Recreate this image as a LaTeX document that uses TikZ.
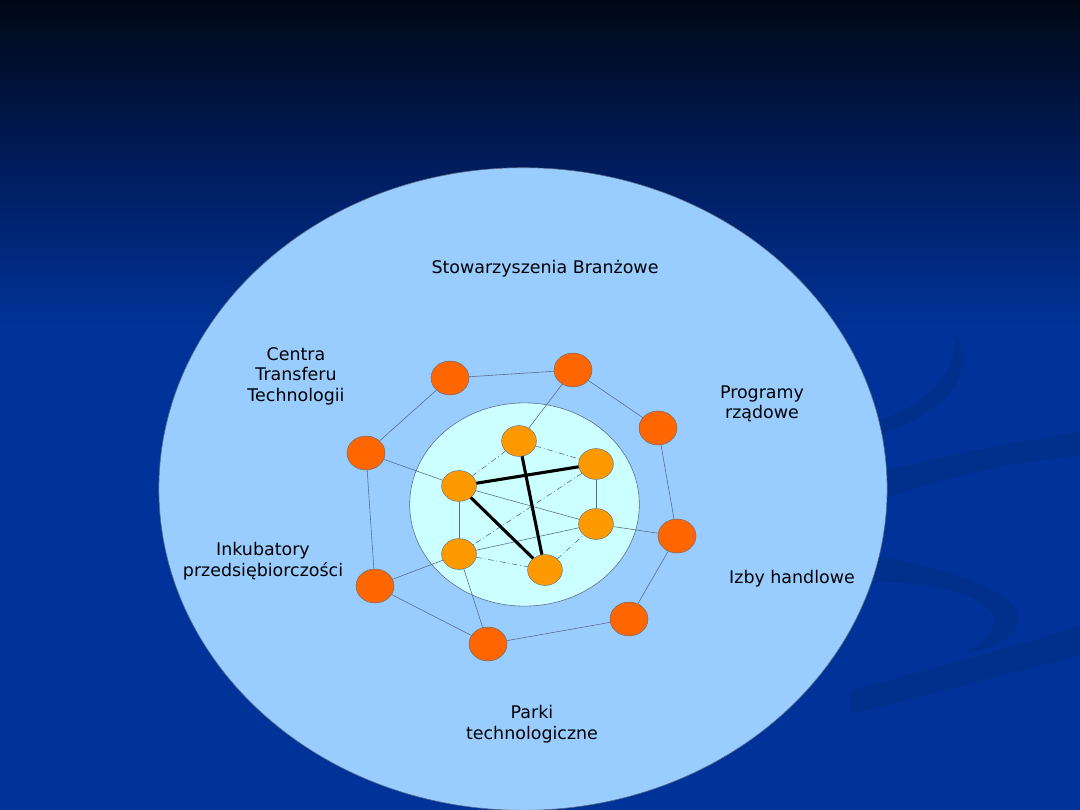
\documentclass[tikz,border=0pt]{standalone}
\usepackage{fontspec}
\setmainfont{DejaVu Sans}
\usepackage{xcolor}
\usetikzlibrary{shapes.geometric,positioning}
\definecolor{bgtop}{HTML}{000814}
\definecolor{bgmid}{HTML}{001C5C}
\definecolor{bgblue}{HTML}{003399}
\definecolor{swoosh}{HTML}{00308C}
\definecolor{outerfill}{HTML}{99CCFF}
\definecolor{innerfill}{HTML}{CCFFFF}
\definecolor{hubfill}{HTML}{FF6600}
\definecolor{corefill}{HTML}{FF9900}
\definecolor{rim}{HTML}{5A6A80}

\begin{document}
\begin{tikzpicture}[x=0.025cm,y=-0.025cm,font=\fontsize{12.4}{14.5}\selectfont]
\tikzset{hub/.style={ellipse,draw=rim,line width=0.3pt,fill=hubfill,minimum width=0.95cm,minimum height=0.85cm,inner sep=0pt},
  core/.style={ellipse,draw=rim,line width=0.3pt,fill=corefill,minimum width=0.87cm,minimum height=0.77cm,inner sep=0pt},
  link/.style={draw=rim,line width=0.4pt},
  dlink/.style={link,dash pattern=on 4pt off 2pt on 0.6pt off 2pt},
  strong/.style={line width=2.2pt,black},
  lbl/.style={align=center,text=black}}
\useasboundingbox (0,0) rectangle (1080,810);
% background
\fill[bgblue] (0,0) rectangle (1080,810);
\shade[top color=bgtop,bottom color=bgblue,middle color=bgmid] (0,0) rectangle (1080,330);
\fill[swoosh] (955,332) .. controls (978,372) and (950,412) .. (880,434) -- (880,420) .. controls (935,400) and (958,370) .. (955,332) -- cycle;
\fill[swoosh] (880,472) .. controls (950,455) and (1000,444) .. (1080,432) -- (1080,456) .. controls (1000,464) and (950,476) .. (880,500) -- cycle;
\fill[swoosh] (875,556) .. controls (960,570) and (1022,595) .. (1018,620) .. controls (1015,640) and (990,650) .. (965,652) .. controls (990,640) and (1000,625) .. (990,610) .. controls (970,590) and (920,582) .. (875,582) -- cycle;
\fill[swoosh] (850,690) .. controls (930,670) and (1000,650) .. (1080,626) -- (1080,656) .. controls (1000,675) and (930,695) .. (850,714) -- cycle;
% rings
\filldraw[fill=outerfill,draw=rim,line width=0.4pt] (523,489) ellipse [x radius=9.1cm,y radius=8.03cm];
\filldraw[fill=innerfill,draw=rim,line width=0.4pt] (524.5,504.5) ellipse [x radius=2.87cm,y radius=2.54cm];
% outer ring of institutions
\node[hub] (h1) at (450,378) {};
\node[hub] (h2) at (573,370) {};
\node[hub] (h3) at (658,428) {};
\node[hub] (h4) at (677,536) {};
\node[hub] (h5) at (629,619) {};
\node[hub] (h6) at (488,644) {};
\node[hub] (h7) at (375,586) {};
\node[hub] (h8) at (366,453) {};
% inner core
\node[core] (ca) at (519,441) {};
\node[core] (cb) at (596,464) {};
\node[core] (cc) at (459,486) {};
\node[core] (cd) at (596,524) {};
\node[core] (ce) at (459,554) {};
\node[core] (cf) at (545,570) {};
\foreach \a/\b in {h1/h2,h2/h3,h3/h4,h4/h5,h5/h6,h6/h7,h7/h8,h8/h1,h2/ca,h8/cc,h4/cd,h7/ce,h6/ce,cc/ce,cb/cd,ce/cd,cc/cd}{\draw[link] (\a) -- (\b);}
\foreach \a/\b in {ca/cc,ca/cb,ce/cf,cf/cd,cb/ce}{\draw[dlink] (\a) -- (\b);}
\foreach \a/\b in {ca/cf,cc/cb,cc/cf}{\draw[strong] (\a) -- (\b);}
% labels
\node[lbl] (stow) at (545,269) {Stowarzyszenia Branżowe};
\node[lbl] (ctt) at (296,376) {Centra\\Transferu\\Technologii};
\node[lbl] (prog) at (762,404) {Programy\\rządowe};
\node[lbl] (izby) at (792,579) {Izby handlowe};
\node[lbl] (ink) at (263,561) {Inkubatory\\przedsiębiorczości};
\node[lbl] (park) at (532,724) {Parki\\technologiczne};
\end{tikzpicture}
\end{document}
